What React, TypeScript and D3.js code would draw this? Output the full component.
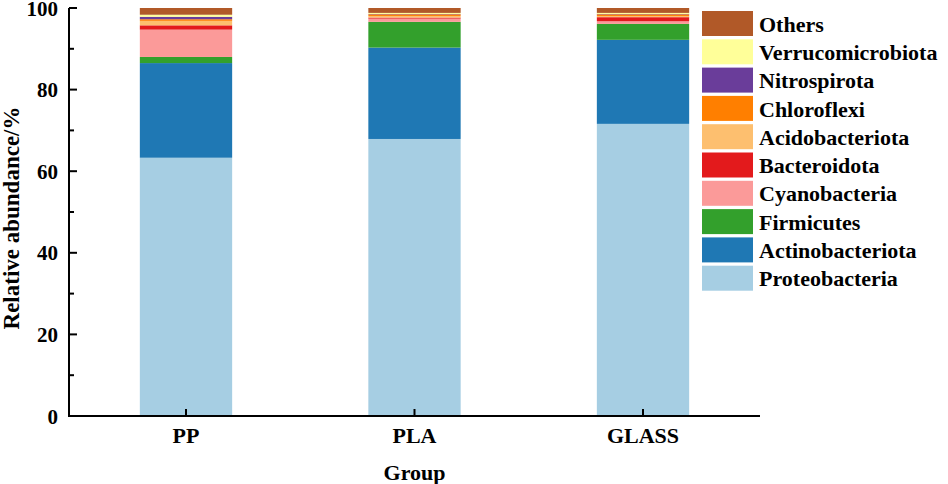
import React from "react";
import * as d3 from "d3";

const groups = ["PP", "PLA", "GLASS"];
const phyla = [
  "Proteobacteria",
  "Actinobacteriota",
  "Firmicutes",
  "Cyanobacteria",
  "Bacteroidota",
  "Acidobacteriota",
  "Chloroflexi",
  "Nitrospirota",
  "Verrucomicrobiota",
  "Others",
];
const proteobacteria = [63.3, 67.9, 71.6];
const actinobacteriota = [23.2, 22.4, 20.6];
const firmicutes = [1.5, 6.3, 3.9];
const cyanobacteria = [6.7, 0.8, 0.65];
const bacteroidota = [1.05, 0.25, 1.0];
const acidobacteriota = [1.1, 0.4, 0.3];
const chloroflexi = [0.4, 0.4, 0.4];
const nitrospirota = [0.6, 0.1, 0.1];
const verrucomicrobiota = [0.5, 0.25, 0.25];
const others = [1.65, 1.2, 1.2];
const colors = [
  "#a6cee3",
  "#1f78b4",
  "#33a02c",
  "#fb9a99",
  "#e31a1c",
  "#fdbf6f",
  "#ff7f00",
  "#6a3d9a",
  "#ffff99",
  "#b15928",
];
const yTicks = [0, 20, 40, 60, 80, 100];
const yMinorTicks = [10, 30, 50, 70, 90];

const series = [
  proteobacteria,
  actinobacteriota,
  firmicutes,
  cyanobacteria,
  bacteroidota,
  acidobacteriota,
  chloroflexi,
  nitrospirota,
  verrucomicrobiota,
  others,
];

const W = 948;
const H = 484;
const left = 69;
const right = 760;
const top = 8;
const bottom = 416;
const font = "'Liberation Serif', 'Times New Roman', serif";

export default function App() {
  const table = groups.map((g, gi) => {
    const row: any = { group: g };
    phyla.forEach((p, pi) => (row[p] = series[pi][gi]));
    return row;
  });
  const stacked = d3.stack<any>().keys(phyla)(table);
  const x = d3
    .scaleBand<string>()
    .domain(groups)
    .range([left, right])
    .paddingInner(0.596)
    .paddingOuter(0.31);
  const y = d3.scaleLinear().domain([0, 100]).range([bottom, top]);
  const color = d3.scaleOrdinal<string, string>().domain(phyla).range(colors);

  const legendOrder = [...phyla].reverse();

  return (
    <div style={{ position: "fixed", left: 0, top: 0 }}>
      <svg width={W} height={H} style={{ display: "block", background: "#fff" }}>
        {stacked.map((s) => (
          <g key={s.key} fill={color(s.key)}>
            {s.map((d, i) => (
              <rect
                key={i}
                x={x(d.data.group)}
                width={x.bandwidth()}
                y={y(d[1])}
                height={Math.max(0, y(d[0]) - y(d[1]))}
              />
            ))}
          </g>
        ))}
        {/* axes */}
        <line x1={left} x2={left} y1={top} y2={bottom + 1} stroke="#000" strokeWidth={2} />
        <line x1={left - 1} x2={right} y1={bottom} y2={bottom} stroke="#000" strokeWidth={2} />
        {yTicks.map((t) => (
          <g key={t}>
            <line x1={left} x2={left + 8} y1={y(t)} y2={y(t)} stroke="#000" strokeWidth={2} />
            <text
              x={58}
              y={y(t)}
              dy="0.36em"
              textAnchor="end"
              fontFamily={font}
              fontWeight="bold"
              fontSize={21}
            >
              {t}
            </text>
          </g>
        ))}
        {yMinorTicks.map((t) => (
          <line key={t} x1={left} x2={left + 5} y1={y(t)} y2={y(t)} stroke="#000" strokeWidth={2} />
        ))}
        {groups.map((g) => {
          const cx = (x(g) as number) + x.bandwidth() / 2;
          return (
            <g key={g}>
              <line x1={cx} x2={cx} y1={bottom} y2={bottom - 7} stroke="#000" strokeWidth={2} />
              <text
                x={cx}
                y={443}
                textAnchor="middle"
                fontFamily={font}
                fontWeight="bold"
                fontSize={22}
              >
                {g}
              </text>
            </g>
          );
        })}
        <text
          x={(left + right) / 2}
          y={480}
          textAnchor="middle"
          fontFamily={font}
          fontWeight="bold"
          fontSize={22}
        >
          Group
        </text>
        <text
          transform={`translate(19, ${(top + bottom) / 2 + 6}) rotate(-90)`}
          textAnchor="middle"
          fontFamily={font}
          fontWeight="bold"
          fontSize={23}
        >
          Relative abundance/%
        </text>
        {/* legend */}
        {legendOrder.map((p, i) => (
          <g key={p} transform={`translate(702, ${11 + i * 28.3})`}>
            <rect width={51} height={25} fill={color(p)} />
            <text
              x={57}
              y={20.7}
              fontFamily={font}
              fontWeight="bold"
              fontSize={22}
            >
              {p}
            </text>
          </g>
        ))}
      </svg>
    </div>
  );
}
